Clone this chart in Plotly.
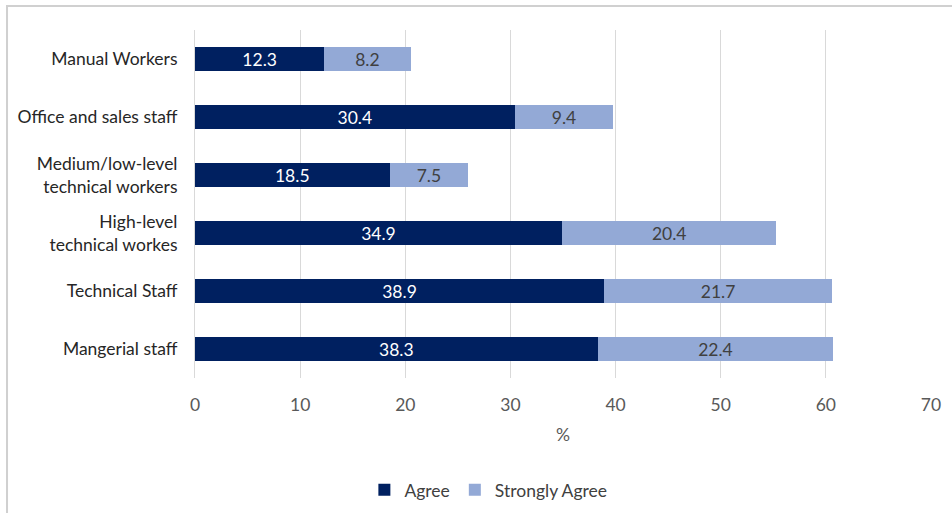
import plotly.graph_objects as go

categories = ["Manual Workers", "Office and sales staff", "Medium/low-level<br>technical workers",
              "High-level<br>technical workes", "Technical Staff", "Mangerial staff"]
agree = [12.3, 30.4, 18.5, 34.9, 38.9, 38.3]
strongly_agree = [8.2, 9.4, 7.5, 20.4, 21.7, 22.4]
x_ticks = [0, 10, 20, 30, 40, 50, 60, 70]

FONT = "Lato, Open Sans, sans-serif"
FS = 17.5

fig = go.Figure()
fig.add_trace(go.Bar(
    y=categories, x=agree, orientation="h", name="Agree",
    marker=dict(color="#002060", line=dict(width=0)),
    text=[f"{v:.1f}" for v in agree], textposition="inside", constraintext="none",
    insidetextanchor="middle", textfont=dict(color="white", size=FS, family=FONT),
    width=0.4,
))
fig.add_trace(go.Bar(
    y=categories, x=strongly_agree, orientation="h", name="Strongly Agree",
    marker=dict(color="#93A9D6", line=dict(width=0)),
    text=[f"{v:.1f}" for v in strongly_agree], textposition="inside", constraintext="none",
    insidetextanchor="middle", textfont=dict(color="#404040", size=FS, family=FONT),
    width=0.4,
))

fig.update_layout(
    barmode="stack",
    width=952, height=513,
    margin=dict(l=195, r=21, t=30, b=135),
    plot_bgcolor="white", paper_bgcolor="white",
    font=dict(family=FONT, size=FS, color="#404040"),
    uniformtext=dict(minsize=FS, mode="show"),
    xaxis=dict(
        range=[0, 70], tickvals=x_ticks, showgrid=True, gridcolor="#D9D9D9", gridwidth=1,
        zeroline=False, showline=False, ticks="", tickfont=dict(color="#595959", size=FS),
        ticklabelstandoff=14,
        title=dict(text="%", font=dict(color="#595959", size=FS), standoff=15),
        fixedrange=True,
    ),
    yaxis=dict(
        autorange="reversed", showgrid=False, showline=True, linecolor="#D9D9D9",
        ticks="", ticklabelstandoff=13, tickfont=dict(color="#262626", size=FS),
    ),
    legend=dict(orientation="h", xref="container", x=0.513, xanchor="center",
                yref="container", y=0.01, yanchor="bottom",
                font=dict(size=FS, color="#404040"), traceorder="normal"),
    bargap=0.6,
    showlegend=True,
)
fig.add_shape(type="rect", xref="paper", yref="paper",
              x0=-0.2554, x1=1.05, y0=-0.42, y1=1.069,
              line=dict(color="#D0D0D0", width=2), fillcolor="rgba(0,0,0,0)", layer="below")

fig.write_html("out.html")
